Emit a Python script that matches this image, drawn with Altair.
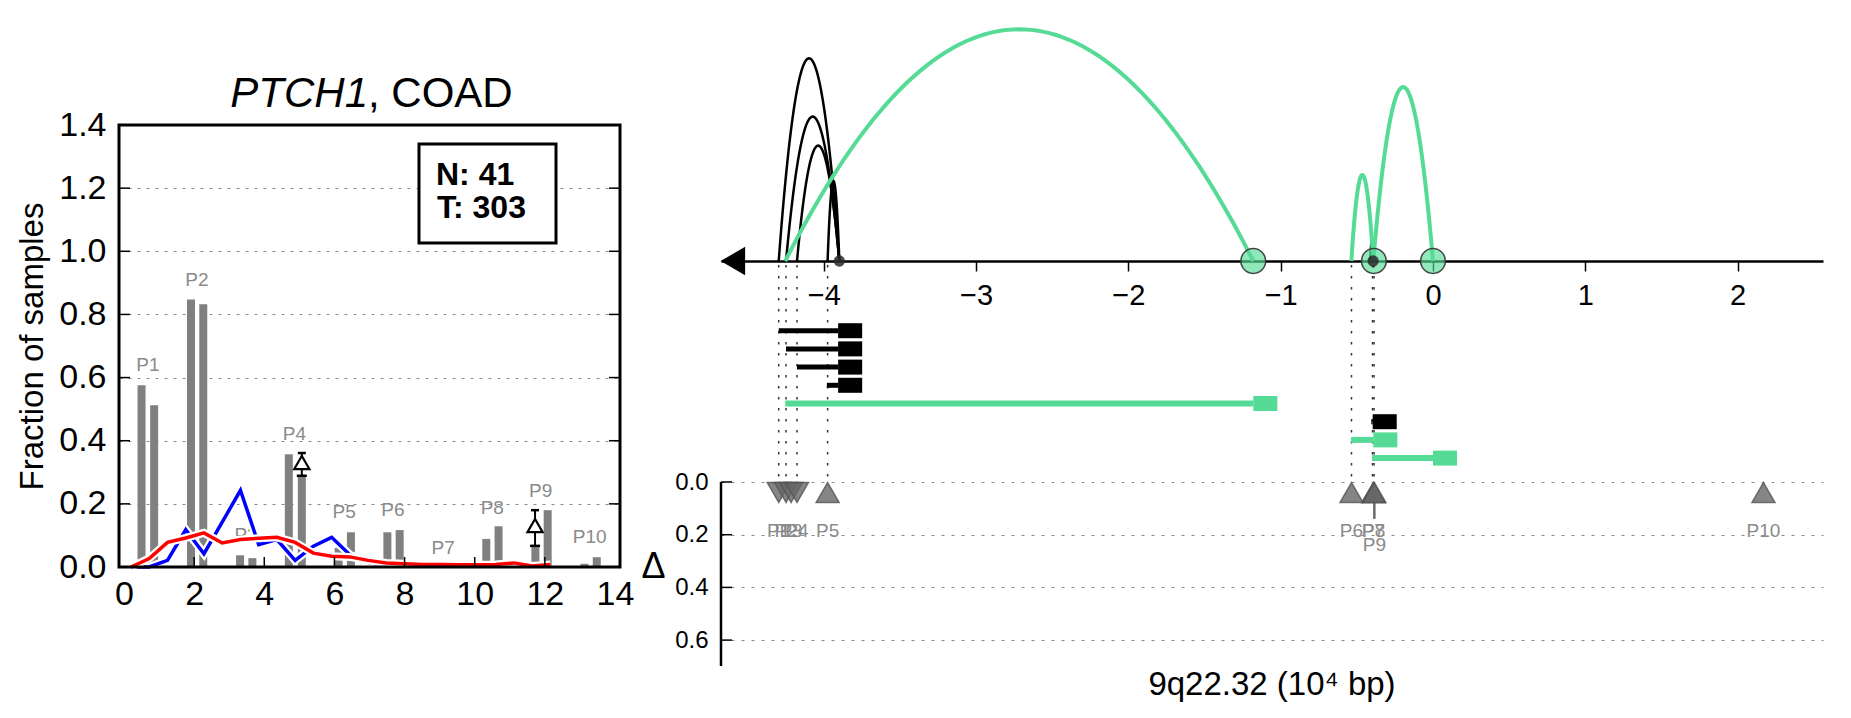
import altair as alt
import pandas as pd
import numpy as np

FONT = "Liberation Sans"
GREEN = "#56DB96"
GRAY_BAR = "#808080"
GRAY_TXT = "#8a8a8a"

# ---------------- left panel data ----------------
bar_x = [0.50, 0.86, 1.91, 2.26, 3.31, 3.66, 4.70, 5.07, 6.12, 6.47,
         7.51, 7.86, 9.10, 9.45, 10.33, 10.68, 11.73, 12.08, 13.13, 13.48]
bar_val = [0.576, 0.512, 0.847, 0.832, 0.037, 0.028, 0.357, 0.285, 0.060, 0.110,
           0.110, 0.117, 0.012, 0.004, 0.089, 0.129, 0.066, 0.180, 0.010, 0.031]
peak_names = ["P1", "P2", "P3", "P4", "P5", "P6", "P7", "P8", "P9", "P10"]
peak_lab_x = [0.68, 2.08, 3.48, 4.86, 6.28, 7.67, 9.10, 10.50, 11.88, 13.28]
peak_lab_y = [0.640, 0.910, 0.100, 0.420, 0.174, 0.180, 0.060, 0.187, 0.242, 0.094]

curve_x = [0.20, 0.72, 1.24, 1.76, 2.28, 2.80, 3.32, 3.84, 4.36, 4.88, 5.40, 5.92,
           6.44, 6.96, 7.48, 8.00, 8.52, 9.04, 9.56, 10.08, 10.60, 11.12, 11.64, 12.16]
red_val = [0.000, 0.027, 0.078, 0.092, 0.108, 0.076, 0.087, 0.091, 0.094, 0.078, 0.044, 0.034,
           0.032, 0.021, 0.013, 0.010, 0.008, 0.008, 0.007, 0.007, 0.008, 0.013, 0.003, 0.008]
blue_val = [0.000, 0.000, 0.021, 0.118, 0.042, 0.142, 0.243, 0.071, 0.087, 0.021, 0.066, 0.094,
            0.039, 0.015, 0.004]

delta_x = [5.07, 11.72]
delta_mid = [0.331, 0.131]
delta_lo = [0.289, 0.067]
delta_hi = [0.361, 0.180]

x_ticks_left = [0, 2, 4, 6, 8, 10, 12, 14]
y_ticks_left = [0.0, 0.2, 0.4, 0.6, 0.8, 1.0, 1.2, 1.4]
inner_x_ticks = [2, 4, 6, 8, 10, 12]
inner_y_ticks = [0.2, 0.4, 0.6, 0.8, 1.0, 1.2]

# ---------------- right panel data ----------------
arc_start = [-4.296, -4.248, -4.176, -3.975, -0.411, -4.253, -0.536, -0.392]
arc_end = [-3.898, -3.898, -3.898, -3.898, -0.393, -1.180, -0.392, 0.000]
arc_height = [202.7, 144.4, 115.4, 80.0, 20.0, 231.7, 86.0, 174.0]   # pixels above the axis line
arc_kind = ["black", "black", "black", "black", "black", "green", "green", "green"]

circle_x = [-1.180, -0.388, 0.000]
dot_x = [-3.898, -0.393]
arrow_x = [-4.597]
guide_x = [-4.296, -4.248, -4.176, -3.975, -0.535, -0.397, -0.387]

lane_id = [0, 1, 2, 3, 4, 5, 6, 7]
lane_start = [-4.296, -4.248, -4.176, -3.980, -4.253, -0.405, -0.538, -0.400]
lane_end = [-3.906, -3.906, -3.906, -3.906, -1.180, -0.396, -0.392, 0.000]
lane_kind = ["black", "black", "black", "black", "green", "black", "green", "green"]

peak_pos = [-4.296, -4.248, -4.215, -4.176, -3.975, -0.535, -0.392, -0.390, -0.385, 2.170]
peak_dir = ["down", "down", "down", "down", "up", "up", "up", "up", "up", "up"]
peak_delta = [0.04, 0.04, 0.04, 0.04, 0.04, 0.04, 0.04, 0.04, 0.04, 0.04]
peak_lab_delta = [0.185, 0.185, 0.185, 0.185, 0.185, 0.185, 0.185, 0.185, 0.239, 0.185]
p9_err_lo, p9_err_hi = 0.04, 0.14
delta_ticks = [0.0, 0.2, 0.4, 0.6]
pos_ticks = [-4, -3, -2, -1, 0, 1, 2]

one = pd.DataFrame({"a": [0]})

# ================= LEFT PANEL (one layered chart; top 102 px hold the title) =================
LW, LH = 501, 544
TOPGAP = 102
ymax_left = 1.4 * LH / (LH - TOPGAP)
xs = alt.Scale(domain=[0, 14], nice=False, zero=False)
ys = alt.Scale(domain=[0, ymax_left], nice=False)
x_axis = alt.Axis(values=x_ticks_left, labelFontSize=34, labelPadding=10, ticks=False,
                  domain=False, grid=False, title=None, labelColor="black")
y_axis = alt.Axis(values=y_ticks_left, format=".1f", labelFontSize=34, labelPadding=13,
                  ticks=False, domain=False, grid=True, gridDash=[3, 6], gridColor="#8a8a8a",
                  gridWidth=1.2, title="Fraction of samples", titleFontSize=33,
                  titleFontWeight="normal", titlePadding=9, titleY=TOPGAP + (LH - TOPGAP) / 2,
                  labelColor="black", titleColor="black")
XL = alt.X("x:Q", scale=xs, axis=x_axis)
YL = alt.Y("y:Q", scale=ys, axis=y_axis)

bars_df = pd.DataFrame({"x": bar_x, "y": bar_val})
plab_df = pd.DataFrame({"x": peak_lab_x, "y": peak_lab_y, "t": peak_names})
blue_df = pd.DataFrame({"x": curve_x[:len(blue_val)], "y": blue_val})
red_df = pd.DataFrame({"x": curve_x, "y": red_val})
dl_df = pd.DataFrame({"x": delta_x, "y": delta_lo, "y2": delta_hi, "m": delta_mid})
ixt_df = pd.DataFrame({"x": inner_x_ticks})
iyt_df = pd.DataFrame({"y": inner_y_ticks})

bars = alt.Chart(bars_df).mark_bar(size=8, color=GRAY_BAR).encode(x=XL, y=YL)
plabs = alt.Chart(plab_df).mark_text(fontSize=19, color=GRAY_TXT, baseline="middle").encode(
    x=XL, y=YL, text="t:N")
blue_w = alt.Chart(blue_df).mark_line(color="white", strokeWidth=8).encode(x=XL, y=YL)
blue = alt.Chart(blue_df).mark_line(color="#0000ff", strokeWidth=3.5).encode(x=XL, y=YL)
red_w = alt.Chart(red_df).mark_line(color="white", strokeWidth=8).encode(x=XL, y=YL)
red = alt.Chart(red_df).mark_line(color="#ff0000", strokeWidth=3.5).encode(x=XL, y=YL)
err = alt.Chart(dl_df).mark_rule(color="black", strokeWidth=2).encode(x=XL, y=YL, y2="y2:Q")
cap_lo = alt.Chart(dl_df).mark_rule(color="black", strokeWidth=2.5, xOffset=-5, x2Offset=5).encode(
    x=XL, x2="x:Q", y=YL)
cap_hi = alt.Chart(dl_df).mark_rule(color="black", strokeWidth=2.5, xOffset=-4, x2Offset=4).encode(
    x=XL, x2="x:Q", y=alt.Y("y2:Q", scale=ys, axis=y_axis))
tri = alt.Chart(dl_df).mark_point(shape="triangle-up", size=230, filled=True, fill="white",
                                  stroke="black", strokeWidth=2.2, opacity=1).encode(
    x=XL, y=alt.Y("m:Q", scale=ys, axis=y_axis))
ixt = alt.Chart(ixt_df).mark_rule(color="black", strokeWidth=1.5).encode(
    x=XL, y=alt.value(LH), y2=alt.value(LH - 10))
iyt_l = alt.Chart(iyt_df).mark_rule(color="black", strokeWidth=1.5).encode(
    y=YL, x=alt.value(0), x2=alt.value(11))
iyt_r = alt.Chart(iyt_df).mark_rule(color="black", strokeWidth=1.5).encode(
    y=YL, x=alt.value(LW - 11), x2=alt.value(LW))
frame = alt.Chart(one).mark_rect(fillOpacity=0, stroke="black", strokeWidth=3).encode(
    x=alt.value(0), x2=alt.value(LW), y=alt.value(TOPGAP), y2=alt.value(LH))
lbox = alt.Chart(one).mark_rect(fill="white", stroke="black", strokeWidth=3).encode(
    x=alt.value(300), x2=alt.value(437), y=alt.value(TOPGAP + 19), y2=alt.value(TOPGAP + 118))
ltxt1 = alt.Chart(one).mark_text(text="N: 41", fontSize=32, fontWeight="bold", align="left",
                                 baseline="alphabetic").encode(x=alt.value(317), y=alt.value(TOPGAP + 60))
ltxt2 = alt.Chart(one).mark_text(text="T: 303", fontSize=32, fontWeight="bold", align="left",
                                 baseline="alphabetic").encode(x=alt.value(318), y=alt.value(TOPGAP + 93))
t1 = alt.Chart(one).mark_text(text="PTCH1", fontSize=42, fontStyle="italic", align="right",
                              baseline="alphabetic").encode(x=alt.value(249), y=alt.value(84))
t2 = alt.Chart(one).mark_text(text=", COAD", fontSize=42, align="left",
                              baseline="alphabetic").encode(x=alt.value(249), y=alt.value(84))

left_chart = alt.layer(bars, plabs, blue_w, blue, red_w, red, err, cap_lo, cap_hi, tri,
                       ixt, iyt_l, iyt_r, frame, lbox, ltxt1, ltxt2, t1, t2).properties(
    width=LW, height=LH)

# ================= RIGHT PANEL (one layered chart, y in units of delta) =================
RW, RH = 1102, 643
D0 = 459.0        # px from top where delta = 0
K = 263.5         # px per delta unit
AXIS_PX = 238.0   # px from top of the arc baseline
LANE0_PX, LANE_STEP = 307.7, 18.2
xr = alt.Scale(domain=[-4.675, 2.561], nice=False, zero=False)
yr = alt.Scale(domain=[-D0 / K, (RH - D0) / K], nice=False, zero=False, reverse=True)

xr_axis = alt.Axis(values=pos_ticks, format="d", labelFontSize=29, labelPadding=10, tickSize=10,
                   tickWidth=1.5, tickColor="black", domainColor="black", domainWidth=2.5,
                   grid=False, title=None, labelColor="black", offset=-(RH - AXIS_PX))
yr_axis = alt.Axis(values=delta_ticks, format=".1f", labelFontSize=24, labelPadding=13, ticks=False,
                   domain=False, grid=True, gridDash=[3, 7], gridColor="#8a8a8a", gridWidth=1.2,
                   title="Δ", titleAngle=0, titleFontSize=36, titleFontWeight="normal",
                   titleBaseline="middle", titleAlign="center", titleX=-68, titleY=543,
                   labelColor="black", titleColor="black")
XR = alt.X("x:Q", scale=xr, axis=xr_axis)
YR = alt.Y("y:Q", scale=yr, axis=yr_axis)

# arcs (parabolic)
rows = []
for i, (s, e, h, k) in enumerate(zip(arc_start, arc_end, arc_height, arc_kind)):
    c, r = (s + e) / 2.0, (e - s) / 2.0
    for t in np.linspace(-1, 1, 81):
        rows.append({"arc": i, "x": c + r * t, "h": h * (1 - t * t), "kind": k})
arc_df = pd.DataFrame(rows)
to_delta = f"({AXIS_PX} - datum.h - {D0}) / {K}"

arcs_black = alt.Chart(arc_df).transform_filter(alt.datum.kind == "black").transform_calculate(
    y=to_delta).mark_line(color="black", strokeWidth=2.5).encode(x=XR, y=YR, detail="arc:N", order="x:Q")
arcs_green = alt.Chart(arc_df).transform_filter(alt.datum.kind == "green").transform_calculate(
    y=to_delta).mark_line(color=GREEN, strokeWidth=4).encode(x=XR, y=YR, detail="arc:N", order="x:Q")

base_df = lambda xs_: pd.DataFrame({"x": xs_, "h": [0.0] * len(xs_)})
arrow = alt.Chart(base_df(arrow_x)).transform_calculate(y=to_delta).mark_point(
    shape="triangle-left", size=800, filled=True, color="black", opacity=1).encode(x=XR, y=YR)
circles = alt.Chart(base_df(circle_x)).transform_calculate(y=to_delta).mark_point(
    shape="circle", size=616, filled=True, fill=GREEN, fillOpacity=0.65, stroke="#333",
    strokeWidth=1.5, strokeOpacity=0.9).encode(x=XR, y=YR)
dots = alt.Chart(base_df(dot_x)).transform_calculate(y=to_delta).mark_point(
    shape="circle", size=127, filled=True, color="#2a2a2a", opacity=0.85).encode(x=XR, y=YR)

# guides and lanes
guide = alt.Chart(pd.DataFrame({"x": guide_x})).mark_rule(
    color="#333", strokeWidth=1.5, strokeDash=[2.5, 8.5]).encode(
    x=XR, y=alt.value(AXIS_PX + 4), y2=alt.value(D0))
lane_df = pd.DataFrame({"lane": lane_id, "x": lane_start, "x2": lane_end, "kind": lane_kind})
lane_y = f"({LANE0_PX} + {LANE_STEP} * datum.lane - {D0}) / {K}"
kcol = alt.Color("kind:N", scale=alt.Scale(domain=["black", "green"], range=["black", GREEN]), legend=None)
lane_lines = alt.Chart(lane_df).transform_calculate(y=lane_y).mark_rule(strokeCap="butt").encode(
    x=XR, x2="x2:Q", y=YR, color=kcol,
    strokeWidth=alt.StrokeWidth("kind:N", scale=alt.Scale(domain=["black", "green"], range=[5, 6]),
                                legend=None))
lane_sq = alt.Chart(lane_df).transform_calculate(y=lane_y, sq1="datum.x2", sq2="datum.x2 + 0.158").mark_rule(
    strokeCap="butt", strokeWidth=15).encode(
    x=alt.X("sq1:Q", scale=xr, axis=xr_axis), x2="sq2:Q", y=YR, color=kcol)

# delta section
pk_df = pd.DataFrame({"x": peak_pos, "y": peak_delta, "dir": peak_dir, "t": peak_names,
                      "ld": peak_lab_delta})
p9 = alt.Chart(pd.DataFrame({"x": [peak_pos[8]], "y": [p9_err_lo], "y2": [p9_err_hi]})).mark_rule(
    color="#6a6a6a", strokeWidth=2.5).encode(x=XR, y=YR, y2="y2:Q")
tris = alt.Chart(pk_df).mark_point(size=529, filled=True, fill="#666666", fillOpacity=0.8,
                                   stroke="#555555", strokeWidth=1.5, strokeOpacity=0.8).encode(
    x=XR, y=YR,
    shape=alt.Shape("dir:N", scale=alt.Scale(domain=["down", "up"], range=["triangle-down", "triangle-up"]),
                    legend=None))
dlabs = alt.Chart(pk_df).mark_text(fontSize=19, color=GRAY_TXT, baseline="middle").encode(
    x=XR, y=alt.Y("ld:Q", scale=yr, axis=yr_axis), text="t:N")
dtick_df = pd.DataFrame({"y": delta_ticks})
dticks = alt.Chart(dtick_df).mark_rule(color="black", strokeWidth=1.5).encode(
    y=YR, x=alt.value(0), x2=alt.value(11))
daxis = alt.Chart(one).mark_rule(color="black", strokeWidth=2.5).encode(
    x=alt.value(0), y=alt.value(D0), y2=alt.value(RH))
xtitle = alt.Chart(one).mark_text(text="9q22.32 (10⁴ bp)", fontSize=33, baseline="middle",
                                  align="center").encode(x=alt.value(RW / 2), y=alt.value(RH + 19))

right_chart = alt.layer(arcs_black, arcs_green, arrow, circles, dots, guide, lane_lines, lane_sq,
                        p9, tris, dlabs, dticks, daxis, xtitle).properties(width=RW, height=RH)

chart = alt.hconcat(left_chart, right_chart, spacing=101, bounds="flush").properties(
    padding={"left": 8, "top": 12, "right": 5, "bottom": 5}
).configure(font=FONT).configure_view(stroke="transparent")

chart.save("out.html", embed_options={"renderer": "svg", "actions": False})
